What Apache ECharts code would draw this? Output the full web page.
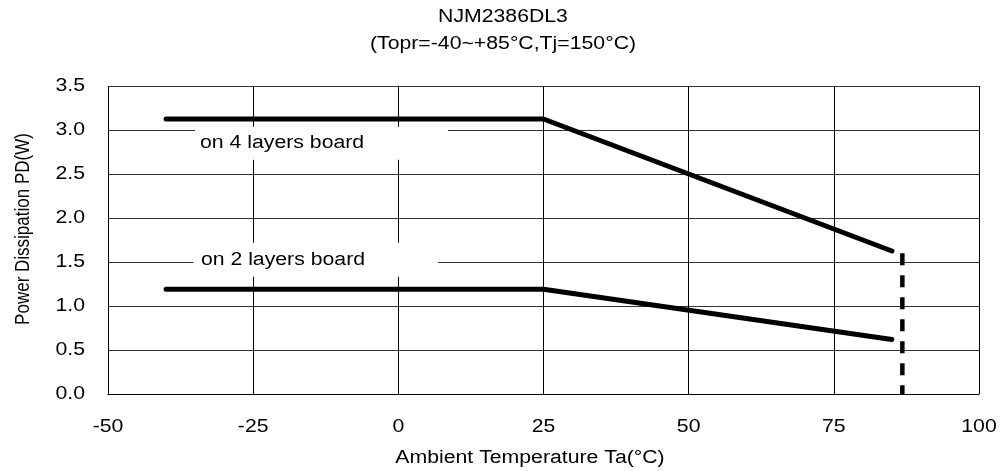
<!DOCTYPE html>
<html>
<head>
<meta charset="utf-8">
<script src="https://cdn.jsdelivr.net/npm/echarts@6/dist/echarts.min.js"></script>
<style>
html,body{margin:0;padding:0;background:#fff;}
#chart{width:1000px;height:471px;}
</style>
</head>
<body>
<div id="chart"></div>
<script>
// ---- data ----
var titleText = 'NJM2386DL3';
var subTitleText = '(Topr=-40~+85°C,Tj=150°C)';
var xName = 'Ambient Temperature Ta(°C)';
var yName = 'Power Dissipation PD(W)';
var xTicks = [-50, -25, 0, 25, 50, 75, 100];
var yTicks = [0, 0.5, 1.0, 1.5, 2.0, 2.5, 3.0, 3.5];
var tempX = [-40, 25, 85];
var pd4Layers = [3.125, 3.125, 1.625];
var pd2Layers = [1.19, 1.19, 0.62];
var limitX = [86.8, 86.8];
var limitY = [1.6, 0];
var label4 = 'on 4 layers board';
var label2 = 'on 2 layers board';
var label4At = [-34.15, 2.85];
var label2At = [-34.0, 1.526];

// ---- style ----
var font = 'Liberation Sans, Arial, sans-serif';
var FS = 18;
var SX = 1.18; // horizontal stretch of the reference's text
function pairs(xs, ys){ return xs.map(function(x,i){ return [x, ys[i]]; }); }

var chart = echarts.init(document.getElementById('chart'));
chart.setOption({
  animation: false,
  backgroundColor: '#fff',
  grid: {left: 108, right: 21, top: 86, bottom: 77, show: false},
  xAxis: {
    type: 'value', min: xTicks[0], max: xTicks[xTicks.length-1], interval: 25,
    axisLine: {lineStyle: {color: '#000', width: 1}},
    axisTick: {show: false},
    axisLabel: {show: false},
    splitLine: {show: true, lineStyle: {color: '#000', width: 1}}
  },
  yAxis: {
    type: 'value', min: yTicks[0], max: yTicks[yTicks.length-1], interval: 0.5,
    axisLine: {show: true, lineStyle: {color: '#000', width: 1}},
    axisTick: {show: false},
    axisLabel: {show: false},
    splitLine: {show: true, lineStyle: {color: '#333', width: 1}}
  },
  series: [
    {type: 'line', data: pairs(tempX, pd4Layers), symbol: 'none', z: 5,
     lineStyle: {color: '#000', width: 5, cap: 'round', join: 'round'}},
    {type: 'line', data: pairs(tempX, pd2Layers), symbol: 'none', z: 5,
     lineStyle: {color: '#000', width: 5, cap: 'round', join: 'round'}},
    {type: 'line', data: pairs(limitX, limitY), symbol: 'none', z: 5,
     lineStyle: {color: '#000', width: 4.5, type: [12, 10], cap: 'butt'}}
  ]
});

function px(pt){ return chart.convertToPixel({gridIndex: 0}, pt); }
function txt(text, x, y, align, extra){
  var el = {
    type: 'text', x: x, y: y, scaleX: SX, z: 100, silent: true,
    style: {text: text, fill: '#000', font: FS + 'px ' + font,
            align: align || 'center', verticalAlign: 'middle'}
  };
  if (extra) for (var k in extra) el[k] = extra[k];
  return el;
}

var g = [];
// title
g.push(txt(titleText, 503, 17, 'center'));
g.push(txt(subTitleText, 503, 44, 'center'));
// x tick labels
xTicks.forEach(function(v){ var p = px([v, 0]); g.push(txt(String(v), p[0], 427, 'center')); });
// y tick labels
yTicks.forEach(function(v){ var p = px([xTicks[0], v]); g.push(txt(v.toFixed(1), 85, p[1], 'right')); });
// axis names
g.push(txt(xName, 530, 458, 'center'));
g.push({type: 'text', x: 23.5, y: 229, rotation: Math.PI / 2, scaleY: 1.2, z: 100, silent: true,
        style: {text: yName, fill: '#000', font: '17px ' + font, align: 'center', verticalAlign: 'middle'}});
// board labels with white boxes hiding the grid
[[label4, label4At, 5, 248, 16.5], [label2, label2At, 7.5, 237, 17]].forEach(function(a){
  var p = px(a[1]);
  g.push({type: 'rect', z: 3, silent: true,
          shape: {x: p[0] - a[2], y: p[1] - a[4], width: a[2] + a[3], height: 2 * a[4]},
          style: {fill: '#fff'}});
  g.push(txt(a[0], p[0], p[1], 'left'));
});
chart.setOption({graphic: {elements: g}});
</script>
</body>
</html>
